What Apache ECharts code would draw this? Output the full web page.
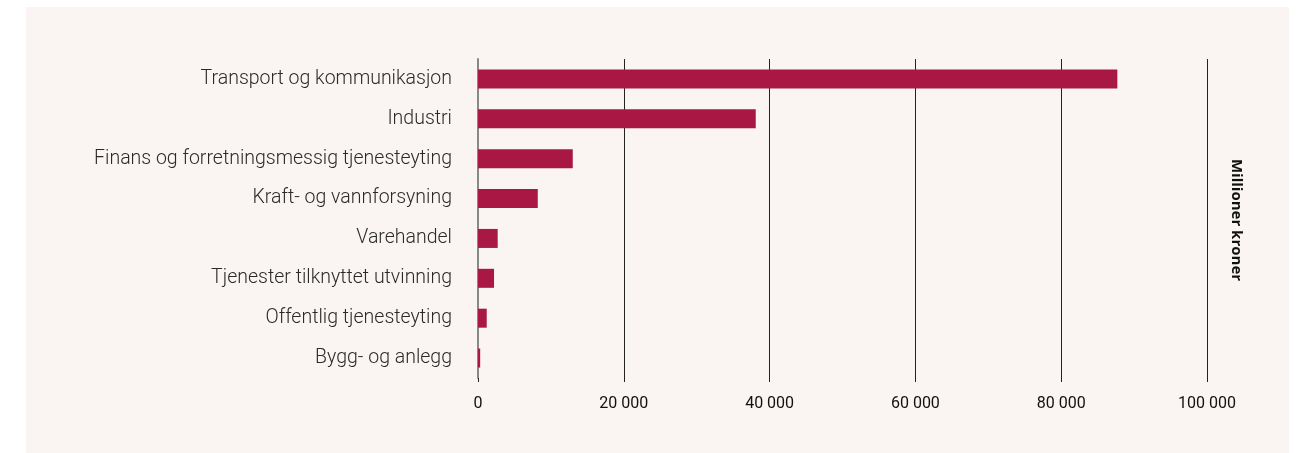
<!DOCTYPE html>
<html>
<head>
<meta charset="utf-8">
<script src="https://cdn.jsdelivr.net/npm/echarts@6/dist/echarts.min.js"></script>
<style>
  html, body { margin: 0; padding: 0; background: #ffffff; }
  #chart { width: 1297px; height: 453px; }
</style>
</head>
<body>
<div id="chart"></div>
<script>
// Investments by industry, million NOK
const categories = [
  'Transport og kommunikasjon',
  'Industri',
  'Finans og forretningsmessig tjenesteyting',
  'Kraft- og vannforsyning',
  'Varehandel',
  'Tjenester tilknyttet utvinning',
  'Offentlig tjenesteyting',
  'Bygg- og anlegg'
];
const values = [87700, 38100, 13000, 8200, 2700, 2200, 1200, 300];
const axisMax = 100000;
const axisStep = 20000;
const unitLabel = 'Millioner kroner';

const chart = echarts.init(document.getElementById('chart'), null, { renderer: 'canvas' });

function spaced(v) {
  return String(v).replace(/\B(?=(\d{3})+(?!\d))/g, ' ');
}

chart.setOption({
  animation: false,
  backgroundColor: '#ffffff',
  graphic: [
    {
      type: 'rect',
      z: -10,
      silent: true,
      shape: { x: 26, y: 7, width: 1263, height: 446 },
      style: { fill: '#faf5f2' }
    },
    {
      type: 'text',
      x: 1236,
      y: 220,
      rotation: -Math.PI / 2,
      style: {
        text: unitLabel,
        font: 'bold 15px "Open Sans", sans-serif',
        fill: '#111111',
        align: 'center',
        verticalAlign: 'middle'
      }
    }
  ],
  grid: { left: 478, right: 90, top: 59, height: 319, containLabel: false },
  xAxis: {
    type: 'value',
    min: 0,
    max: axisMax,
    interval: axisStep,
    axisLine: { show: false },
    axisTick: { show: true, length: 4, lineStyle: { color: '#222222', width: 1 } },
    splitLine: {
      show: true,
      lineStyle: { color: ['transparent', '#222222', '#222222', '#222222', '#222222', '#222222'], width: 1 }
    },
    axisLabel: {
      margin: 18,
      fontFamily: 'Roboto, sans-serif',
      fontSize: 16,
      color: '#111111',
      formatter: spaced
    }
  },
  yAxis: {
    type: 'category',
    data: categories,
    inverse: true,
    axisLine: { show: true, lineStyle: { color: '#888888', width: 2 } },
    axisTick: { show: false },
    splitLine: { show: false },
    axisLabel: {
      margin: 26,
      fontFamily: 'Roboto, sans-serif',
      fontWeight: 300,
      fontSize: 19.5,
      color: '#2a2a2a'
    }
  },
  series: [
    {
      type: 'bar',
      data: values,
      barWidth: 19,
      itemStyle: { color: '#a91744' },
      z: 3
    }
  ]
});
</script>
</body>
</html>
